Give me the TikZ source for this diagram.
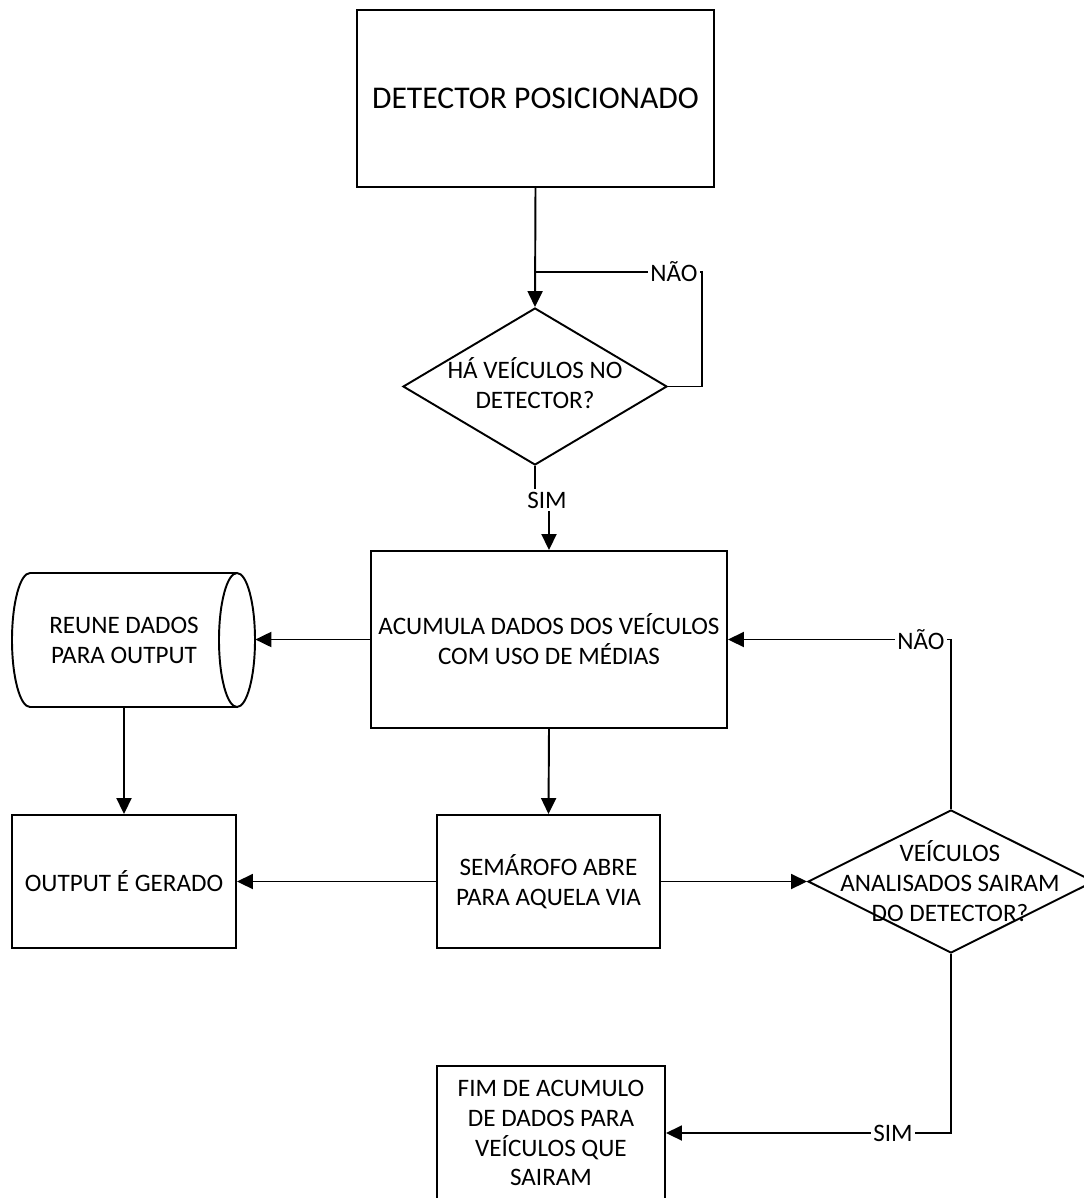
\documentclass[tikz,border=0pt]{standalone}
\usepackage{fontspec}
\setmainfont{Carlito}
\usetikzlibrary{shapes.geometric,arrows.meta}

\tikzset{
  flow/.style={line width=1.1pt, draw=black},
  arrow/.style={flow, -{Triangle[length=0.32cm,width=0.3cm]}},
  stepbox/.style={draw=black, line width=1.1pt, rectangle, inner sep=0pt,
                  align=center, font=\fontsize{14.3}{17}\selectfont},
  decision/.style={draw=black, line width=1.1pt, diamond, inner sep=0pt},
  ghost/.style={draw=none, rectangle, inner sep=0pt, align=center,
                font=\fontsize{14.3}{17}\selectfont},
  tag/.style={fill=white, inner sep=1.5pt, font=\fontsize{14.3}{17}\selectfont}
}

\begin{document}
\begin{tikzpicture}[x=0.02cm, y=0.02cm]
\useasboundingbox (0,0) rectangle (1084,-1198);

% process boxes
\node[stepbox, minimum width=357*0.02cm, minimum height=177*0.02cm,
      font=\fontsize{18}{22}\selectfont] (top) at (535.5,-98.5) {DETECTOR POSICIONADO};
\node[stepbox, minimum width=356*0.02cm, minimum height=177*0.02cm] (acc) at (549,-639.5)
  {ACUMULA DADOS DOS VEÍCULOS\\COM USO DE MÉDIAS};
\node[stepbox, minimum width=224*0.02cm, minimum height=133*0.02cm] (out) at (124,-881.5)
  {OUTPUT É GERADO};
\node[stepbox, minimum width=223*0.02cm, minimum height=133*0.02cm] (sem) at (548.5,-881.5)
  {SEMÁROFO ABRE\\PARA AQUELA VIA};
\node[stepbox, minimum width=228*0.02cm, minimum height=134*0.02cm] (fim) at (551,-1133)
  {FIM DE ACUMULO\\DE DADOS PARA\\VEÍCULOS QUE\\SAIRAM};

% decisions: outline first, text laid over it
\node[decision, minimum width=264*0.02cm, minimum height=157*0.02cm] (d1) at (535,-386.5) {};
\node[ghost] at (535,-383.5) {HÁ VEÍCULOS NO\\DETECTOR?};
\node[decision, minimum width=286*0.02cm, minimum height=143*0.02cm] (d2) at (951,-881.5) {};
\node[ghost] at (950,-881) {VEÍCULOS\\ANALISADOS SAIRAM\\DO DETECTOR?};

% stored data drum
\draw[flow] (237,-573) -- (30,-573)
  arc[start angle=90, end angle=270, x radius=18, y radius=67] -- (237,-707);
\draw[flow] (237,-640) ellipse [x radius=18, y radius=67];
\node[ghost, minimum width=262*0.02cm, minimum height=134*0.02cm] (cyl) at (124,-640)
  {REUNE DADOS\\PARA OUTPUT};

% junction points of the loops
\coordinate (j1) at (535,-272);

% connectors
\draw[arrow] (top.south) -- (d1.north);
\draw[flow] (d1.east) -| (702,-272) -- (j1);
\node[tag] (nao1) at (674,-272) {NÃO};

\node[tag] (sim1) at (547,-500) {SIM};
\draw[flow] (d1.south) -- (d1.south |- sim1.north);
\draw[arrow] (sim1.south -| acc.north) -- (acc.north);

\draw[arrow] (acc.west) -- (acc.west -| cyl.east);
\draw[arrow] (cyl.south) -- (out.north);
\draw[arrow] (acc.south) -- (sem.north);
\draw[arrow] (sem.west) -- (out.east);
\draw[arrow] (sem.east) -- (d2.west);

\draw[arrow] (d2.north) |- (acc.east);
\node[tag] (nao2) at (921,-640) {NÃO};
\draw[arrow] (d2.south) |- (fim.east);
\node[tag] (sim2) at (893,-1133) {SIM};
\end{tikzpicture}
\end{document}
